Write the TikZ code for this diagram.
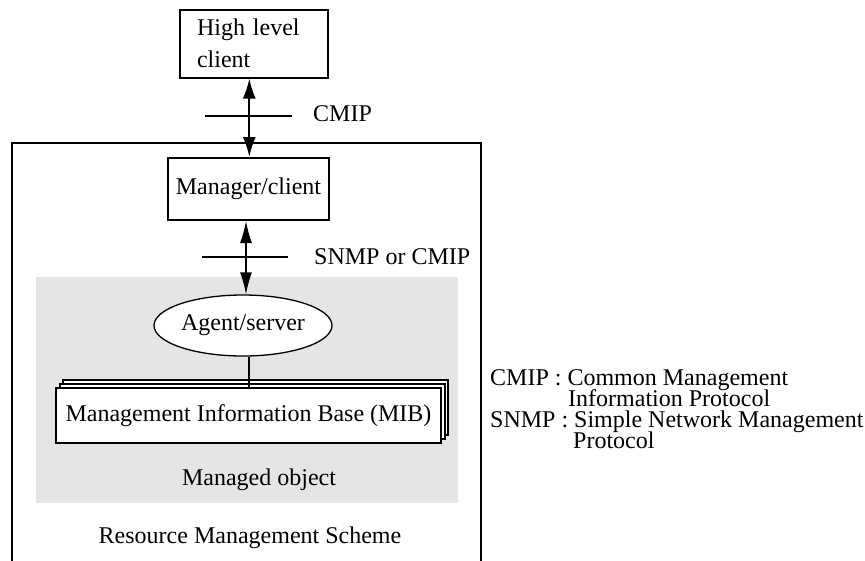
\documentclass[tikz,border=0pt]{standalone}
\usepackage{fontspec}
\setmainfont{Liberation Serif}
\usetikzlibrary{arrows.meta,shapes.geometric,shadows}
\begin{document}
\begin{tikzpicture}[x=1pt,y=-1pt,
  font=\fontsize{24}{32}\selectfont,
  boxline/.style={draw=black,line width=2pt},
  tick/.style={draw=black,line width=1.8pt},
  lbl/.style={inner sep=0pt,anchor=base west},
  leg/.style={lbl,text height=14pt,text depth=3pt},
  ctr/.style={inner sep=0pt,anchor=base}]
\useasboundingbox (0,0) rectangle (865,560);
\clip (0,0) rectangle (865,560);
% managed object background
\fill[fill=black!10] (36,277) rectangle (458,503);
% outer frame (bottom edge outside picture)
\draw[line width=2pt] (12,590) -- (12,143) -- (481,143) -- (481,590);
% nodes
\node[boxline,fill=white,minimum width=148pt,minimum height=68pt,inner xsep=17pt,
      text width=114pt,align=left] (hlc) at (254,43.5) {High level\\client};
\node[boxline,fill=white,minimum width=161pt,minimum height=62pt,inner sep=0pt] (mgr) at (248.5,189) {Manager/client};
\node[ellipse,draw=black,line width=1.3pt,fill=white,minimum width=178pt,minimum height=61pt,inner sep=0pt] (ag) at (243,325.5) {Agent/server};
\node[boxline,fill=white,minimum width=385pt,minimum height=55pt,inner sep=0pt,
      double copy shadow={shadow xshift=3.5pt,shadow yshift=4.2pt}] (mib) at (248.5,415.5) {Management Information Base (MIB)};
% connectors
\draw[line width=2pt,{Latex[length=20pt,width=13pt]}-{Latex[length=20pt,width=13pt]}] (hlc.south -| 249.3,0) -- (mgr.north -| 249.3,0);
\draw[line width=1.3pt,{Latex[length=22pt,width=12pt]}-{Latex[length=22pt,width=12pt]}] (mgr.south -| 246,0) -- (ag.north -| 246,0);
\draw[line width=2pt] (ag.south -| 249,0) -- (mib.north -| 249,0);
% protocol ticks
\coordinate (t1a) at (205,116); \coordinate (t1b) at (292,116);
\coordinate (t2a) at (202,257); \coordinate (t2b) at (288,257);
\draw[tick] (t1a) -- (t1b);
\draw[tick,line width=1.6pt] (t2a) -- (t2b);
% labels
\node[lbl] (cmip) at (313,121) {CMIP};
\node[lbl] (snmp) at (314,264) {SNMP or CMIP};
\node[ctr] (mo) at (259,485) {Managed object};
\node[ctr] (rms) at (250,543) {Resource Management Scheme};
% legend
\node[leg] (l1) at (490,385) {CMIP : Common Management};
\node[leg] (l2) at (568,406) {Information Protocol};
\node[leg] (l3) at (490,427) {SNMP : Simple Network Management};
\node[leg] (l4) at (573,448) {Protocol};
\end{tikzpicture}
\end{document}
